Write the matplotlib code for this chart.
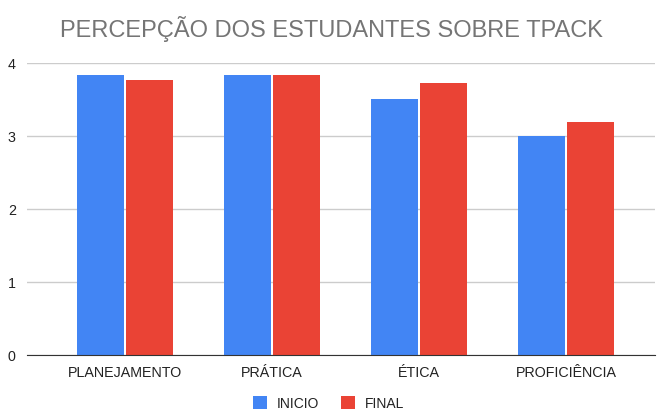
import numpy as np
import matplotlib.pyplot as plt

plt.rcParams['font.family'] = ['Liberation Sans', 'DejaVu Sans']

categorias = ['PLANEJAMENTO', 'PRÁTICA', 'ÉTICA', 'PROFICIÊNCIA']
inicio = [3.84, 3.84, 3.50, 3.00]
final = [3.77, 3.84, 3.73, 3.19]

azul = '#4285F4'
vermelho = '#EA4335'

fig = plt.figure(figsize=(6.57, 4.10), dpi=100)
ax = fig.add_axes([0.041, 0.132, 0.956, 0.712])

x = np.arange(len(categorias))
w = 0.32
ax.bar(x - w / 2 - 0.004, inicio, w, color=azul, label='INICIO', zorder=3)
ax.bar(x + w / 2 + 0.004, final, w, color=vermelho, label='FINAL', zorder=3)

ax.set_xlim(-0.667, 3.605)
ax.set_ylim(0, 4)
ax.set_yticks([0, 1, 2, 3, 4])
ax.set_xticks(x)
ax.set_xticklabels(categorias)
ax.tick_params(axis='both', length=0, labelsize=10.3, colors='#222222')
ax.tick_params(axis='y', pad=8)
ax.tick_params(axis='x', pad=7)
ax.grid(axis='y', color='#cccccc', linewidth=1, zorder=0)
for s in ['top', 'right', 'left']:
    ax.spines[s].set_visible(False)
ax.spines['bottom'].set_color('#333333')
ax.spines['bottom'].set_zorder(4)

fig.text(0.091, 0.93, 'PERCEPÇÃO DOS ESTUDANTES SOBRE TPACK', fontsize=17,
         color='#757575', va='center', ha='left')

fig.legend(loc='center', bbox_to_anchor=(0.5, 0.014), ncol=2, frameon=False,
           fontsize=10, handlelength=1.0, handleheight=1.0, columnspacing=1.6,
           handletextpad=0.7, labelcolor='#222222')

fig.savefig('out.png', dpi=100)
